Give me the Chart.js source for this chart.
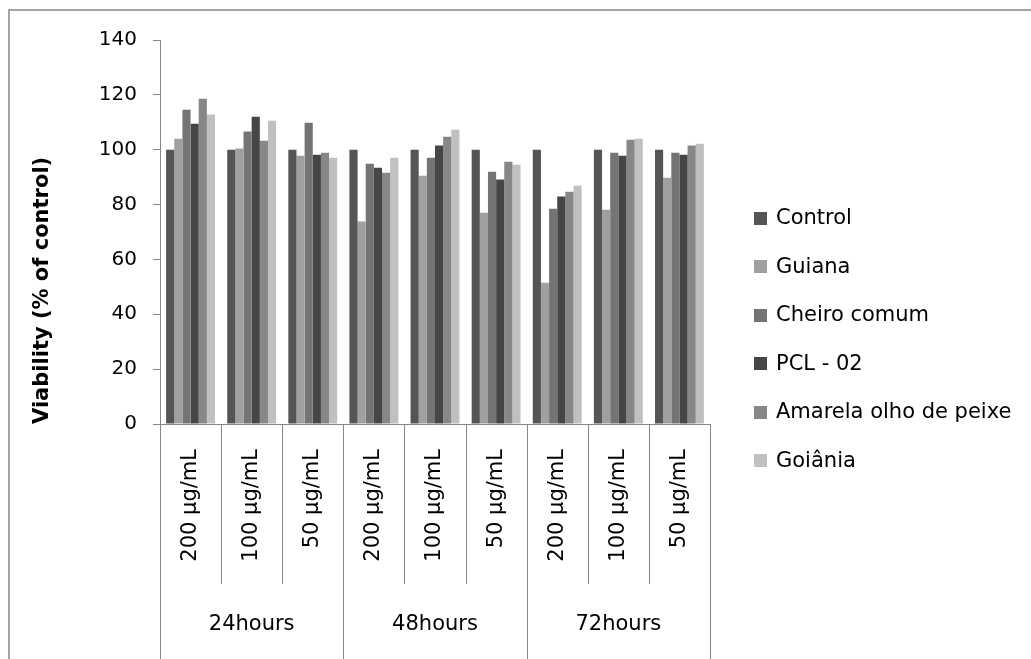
<!DOCTYPE html>
<html>
<head>
<meta charset="utf-8">
<title>Viability</title>
<script src="https://cdn.jsdelivr.net/npm/chart.js@4.4.1/dist/chart.umd.min.js"></script>
<style>
  html, body { margin: 0; padding: 0; background: #ffffff; }
  #wrap { width: 1031px; height: 659px; }
</style>
</head>
<body>
<div id="wrap"><canvas id="chart" width="1031" height="659"></canvas></div>
<script>
// Concentrations (inner axis level) and exposure times (outer axis level)
const concentrations = ['200 µg/mL', '100 µg/mL', '50 µg/mL',
                        '200 µg/mL', '100 µg/mL', '50 µg/mL',
                        '200 µg/mL', '100 µg/mL', '50 µg/mL'];
const timeGroups = ['24hours', '48hours', '72hours'];
const perGroup = 3;

// Viability (% of control) per sample
const seriesNames = ['Control', 'Guiana', 'Cheiro comum', 'PCL - 02', 'Amarela olho de peixe', 'Goiânia'];
const control  = [100, 100, 100, 100, 100, 100, 100, 100, 100];
const guiana   = [104.0, 100.4, 97.8, 73.8, 90.5, 77.0, 51.5, 78.1, 89.8];
const cheiro   = [114.6, 106.6, 109.8, 94.9, 97.1, 92.0, 78.5, 98.9, 98.9];
const pcl02    = [109.5, 112.0, 98.2, 93.4, 101.5, 89.1, 82.9, 97.8, 98.2];
const amarela  = [118.6, 103.3, 98.9, 91.6, 104.7, 95.6, 84.7, 103.6, 101.5];
const goiania  = [112.8, 110.6, 97.1, 97.1, 107.3, 94.5, 86.9, 104.0, 102.2];
const seriesColors = ['#555555', '#a0a0a0', '#747474', '#464646', '#878787', '#c0c0c0'];

const yTicks = [0, 20, 40, 60, 80, 100, 120, 140];

const FONT = 'DejaVu Sans';
const AXIS_GREY = '#878787';

const seriesValues = [control, guiana, cheiro, pcl02, amarela, goiania];
const datasets = seriesNames.map((name, i) => ({
  label: name,
  data: seriesValues[i],
  backgroundColor: seriesColors[i],
  borderWidth: 0
}));

// Frame, multi-level category separators, group captions and legend
const decorations = {
  id: 'decorations',
  afterDraw(chart) {
    const ctx = chart.ctx;
    const xs = chart.scales.x;
    const area = chart.chartArea;
    const n = chart.data.labels.length;
    const step = (xs.right - xs.left) / n;

    ctx.save();
    // outer frame (top and left edges)
    ctx.strokeStyle = AXIS_GREY;
    ctx.lineWidth = 1.5;
    ctx.beginPath();
    ctx.moveTo(9, chart.height);
    ctx.lineTo(9, 10);
    ctx.lineTo(chart.width, 10);
    ctx.stroke();

    // category separators below the axis
    ctx.lineWidth = 1;
    for (let i = 0; i <= n; i++) {
      const x = Math.round(xs.left + i * step) + 0.5;
      const isGroupEdge = i % perGroup === 0;
      ctx.beginPath();
      ctx.moveTo(x, area.bottom);
      ctx.lineTo(x, isGroupEdge ? chart.height : area.bottom + 160);
      ctx.stroke();
    }

    // exposure time captions
    ctx.fillStyle = '#000000';
    ctx.font = '21px "' + FONT + '"';
    ctx.textAlign = 'center';
    ctx.textBaseline = 'middle';
    timeGroups.forEach((g, gi) => {
      const cx = xs.left + (gi * perGroup + perGroup / 2) * step;
      ctx.fillText(g, cx, area.bottom + 201);
    });

    // legend
    ctx.textAlign = 'left';
    chart.data.datasets.forEach((ds, i) => {
      const cy = 218 + i * 48.5;
      ctx.fillStyle = ds.backgroundColor;
      ctx.fillRect(754, Math.round(cy - 6.5), 13, 13);
      ctx.fillStyle = '#000000';
      ctx.fillText(ds.label, 776, cy + 1);
    });
    ctx.restore();
  }
};

new Chart(document.getElementById('chart'), {
  type: 'bar',
  data: { labels: concentrations, datasets: datasets },
  options: {
    responsive: false,
    animation: false,
    layout: { padding: { top: 40, right: 321, bottom: 0, left: 0 } },
    datasets: { bar: { categoryPercentage: 0.8, barPercentage: 1.0 } },
    plugins: { legend: { display: false }, tooltip: { enabled: false } },
    scales: {
      x: {
        grid: { display: false },
        border: { display: true, color: AXIS_GREY, width: 1 },
        ticks: {
          autoSkip: false,
          minRotation: 90,
          maxRotation: 90,
          padding: 17,
          color: '#000000',
          font: { family: FONT, size: 21 }
        },
        afterFit(scale) { scale.height = 235; }
      },
      y: {
        min: 0,
        max: 140,
        afterBuildTicks(scale) { scale.ticks = yTicks.map(v => ({ value: v })); },
        grid: { drawOnChartArea: false, drawTicks: true, tickLength: 7, color: AXIS_GREY, lineWidth: 1 },
        border: { display: true, color: AXIS_GREY, width: 1 },
        ticks: { padding: 16, color: '#000000', font: { family: FONT, size: 20 } },
        title: {
          display: true,
          text: 'Viability (% of control)',
          align: 'start',
          color: '#000000',
          font: { family: FONT, size: 21, weight: 'bold' },
          padding: { top: 30, bottom: 0 }
        },
        afterFit(scale) { scale.width = 160; }
      }
    }
  },
  plugins: [decorations]
});
</script>
</body>
</html>
